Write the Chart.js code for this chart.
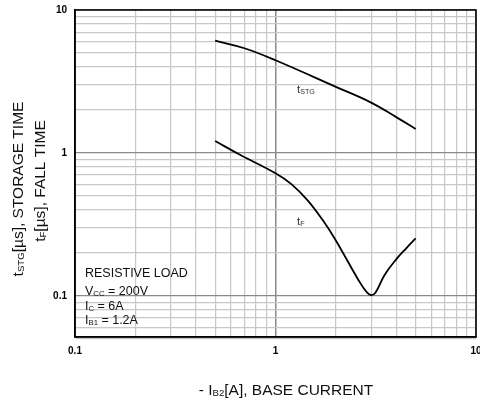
<!DOCTYPE html>
<html>
<head>
<meta charset="utf-8">
<script src="https://cdn.jsdelivr.net/npm/chart.js@4"></script>
<style>
  html, body { margin: 0; padding: 0; background: #fff; }
</style>
</head>
<body>
<canvas id="chart" width="480" height="403"></canvas>
<script>
// storage time curve
const stgX = [0.5, 0.7, 1.0, 2.0, 3.0, 4.0, 5.0];
const stgY = [6.1, 5.4, 4.45, 2.9, 2.25, 1.78, 1.47];

// fall time curve
const fallX = [0.5, 0.665, 1.0, 1.2, 1.45, 1.75, 2.0, 2.6, 2.85, 3.0, 3.15, 3.5, 4.0, 4.5, 5.0];
const fallY = [1.21, 0.97, 0.72, 0.605, 0.464, 0.327, 0.244, 0.128, 0.106, 0.101, 0.105, 0.14, 0.18, 0.216, 0.252];

const xTicks = [0.1, 0.2, 0.3, 0.4, 0.5, 0.6, 0.7, 0.8, 0.9, 1, 2, 3, 4, 5, 6, 7, 8, 9, 10];
const yTicks = [0.05, 0.06, 0.07, 0.08, 0.09, 0.1, 0.2, 0.3, 0.4, 0.5, 0.6, 0.7, 0.8, 0.9,
                1, 2, 3, 4, 5, 6, 7, 8, 9, 10];
const decadeLabels = { 0.1: '0.1', 1: '1', 10: '10' };

const FONT = 'Arial, "Liberation Sans", sans-serif';

function isDecade(v) {
  return decadeLabels[v] !== undefined;
}

// text pieces: [text, isSub]
function richWidth(ctx, parts, size) {
  let w = 0;
  parts.forEach(p => {
    ctx.font = (p[1] ? size * 0.62 : size) + 'px ' + FONT;
    w += ctx.measureText(p[0]).width;
  });
  return w;
}

function drawRich(ctx, parts, x, y, size, color) {
  ctx.fillStyle = color;
  ctx.textBaseline = 'alphabetic';
  ctx.textAlign = 'left';
  parts.forEach(p => {
    ctx.font = (p[1] ? size * 0.62 : size) + 'px ' + FONT;
    ctx.fillText(p[0], x, p[1] ? y + 1 : y);
    x += ctx.measureText(p[0]).width;
  });
}

const textPlugin = {
  id: 'texts',
  afterDraw(chart) {
    const ctx = chart.ctx;
    const a = chart.chartArea;
    ctx.save();

    // frame
    ctx.strokeStyle = '#000';
    ctx.lineWidth = 1.5;
    ctx.strokeRect(a.left, a.top, a.right - a.left, a.bottom - a.top);

    // curve labels
    drawRich(ctx, [['t', false], ['STG', true]], 297, 93, 11.5, '#333');
    drawRich(ctx, [['t', false], ['F', true]], 297, 225, 11.5, '#333');

    // conditions box
    drawRich(ctx, [['RESISTIVE LOAD', false]], 85, 277, 12.5, '#111');
    drawRich(ctx, [['V', false], ['CC', true], [' = 200V', false]], 85, 295, 12.5, '#111');
    drawRich(ctx, [['I', false], ['C', true], [' = 6A', false]], 85, 310, 12.5, '#111');
    drawRich(ctx, [['I', false], ['B1', true], [' = 1.2A', false]], 85, 324, 12.5, '#111');

    // x axis title
    const xt = [['- I', false], ['B2', true], ['[A], BASE CURRENT', false]];
    const xw = richWidth(ctx, xt, 15.5);
    drawRich(ctx, xt, 286 - xw / 2, 395, 15.5, '#111');

    // y axis title, two rotated lines
    const y1 = [['t', false], ['STG', true], ['[\u00b5s], STORAGE TIME', false]];
    const y2 = [['t', false], ['F', true], ['[\u00b5s], FALL TIME', false]];
    [[y1, 23, 189], [y2, 45, 181]].forEach(l => {
      const w = richWidth(ctx, l[0], 15.5);
      ctx.save();
      ctx.translate(l[1], l[2]);
      ctx.rotate(-Math.PI / 2);
      drawRich(ctx, l[0], -w / 2, 0, 15.5, '#111');
      ctx.restore();
    });

    ctx.restore();
  }
};

const ctx = document.getElementById('chart').getContext('2d');
const chart = new Chart(ctx, {
  type: 'line',
  data: {
    datasets: [{
      label: 'tSTG',
      data: stgX.map((x, i) => ({ x: x, y: stgY[i] })),
      borderColor: '#000',
      borderWidth: 1.8,
      pointRadius: 0,
      tension: 0.4,
      fill: false
    }, {
      label: 'tF',
      data: fallX.map((x, i) => ({ x: x, y: fallY[i] })),
      borderColor: '#000',
      borderWidth: 1.8,
      pointRadius: 0,
      tension: 0.4,
      fill: false
    }]
  },
  options: {
    responsive: false,
    animation: false,
    layout: { padding: { top: 10, right: 4, left: 0, bottom: 0 } },
    plugins: {
      legend: { display: false },
      tooltip: { enabled: false }
    },
    scales: {
      x: {
        type: 'logarithmic',
        min: 0.1,
        max: 10,
        afterBuildTicks: s => { s.ticks = xTicks.map(v => ({ value: v })); },
        afterFit: s => { s.height = 66; s.paddingLeft = 0; s.paddingRight = 0; },
        ticks: {
          autoSkip: false,
          maxRotation: 0,
          padding: 8,
          color: '#000',
          font: { family: FONT, size: 10, weight: 'bold' },
          callback: v => decadeLabels[v] || ''
        },
        grid: {
          drawTicks: false,
          color: c => isDecade(c.tick.value) ? '#8a8a8a' : '#c8c8c8',
          lineWidth: c => isDecade(c.tick.value) ? 1.5 : 1.2
        },
        border: { color: '#000', width: 1.5 }
      },
      y: {
        type: 'logarithmic',
        min: 0.0515,
        max: 10,
        afterBuildTicks: s => { s.ticks = yTicks.map(v => ({ value: v })); },
        afterFit: s => { s.width = 75; s.paddingTop = 0; s.paddingBottom = 0; },
        ticks: {
          autoSkip: false,
          padding: 8,
          color: '#000',
          font: { family: FONT, size: 10, weight: 'bold' },
          callback: v => decadeLabels[v] || ''
        },
        grid: {
          drawTicks: false,
          color: c => isDecade(c.tick.value) ? '#8a8a8a' : '#c8c8c8',
          lineWidth: 1.2
        },
        border: { color: '#000', width: 1.5 }
      }
    }
  },
  plugins: [textPlugin]
});
</script>
</body>
</html>
